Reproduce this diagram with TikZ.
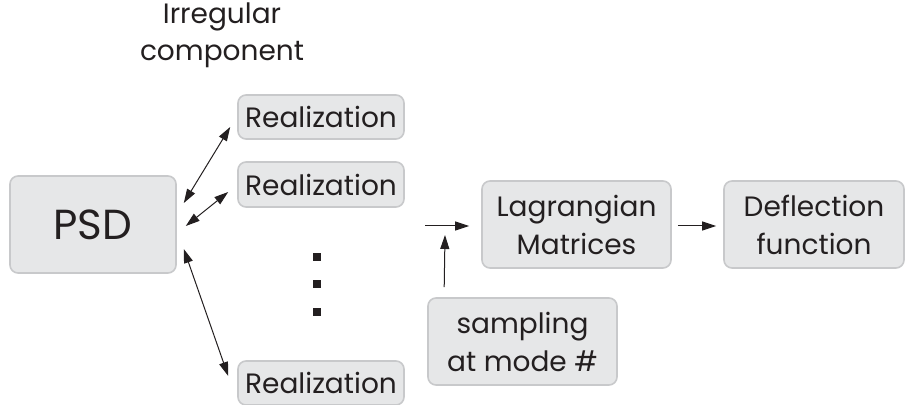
\documentclass[tikz,border=0pt]{standalone}
\usepackage{fontspec}
\setmainfont{Poppins}
\usetikzlibrary{arrows.meta}
\definecolor{boxfill}{HTML}{E6E7E8}
\definecolor{boxline}{HTML}{C8C9CB}
\definecolor{ink}{HTML}{231F20}
\begin{document}
\begin{tikzpicture}[x=0.5pt,y=-0.5pt,
  blk/.style={draw=boxline,fill=boxfill,line width=0.8pt,rounded corners=4pt,
    inner sep=0pt,align=center,text=ink,font=\fontsize{14}{19}\selectfont},
  link/.style={-{Triangle[length=7pt,width=4.5pt]},line width=0.5pt,draw=ink},
  dbl/.style={{Triangle[length=7pt,width=4.5pt]}-{Triangle[length=7pt,width=4.5pt]},line width=0.5pt,draw=ink}]
\useasboundingbox (0,0) rectangle (905,405);
\node[blk,minimum width=83pt,minimum height=48.5pt,font=\fontsize{21}{24}\selectfont] (psd) at (93,224.5) {PSD};
\node[blk,minimum width=83pt,minimum height=22pt] (real1) at (321,117) {Realization};
\node[blk,minimum width=83pt,minimum height=22.5pt] (real2) at (321,184.5) {Realization};
\node[blk,minimum width=83pt,minimum height=22pt] (real3) at (321,383) {Realization};
\node[blk,minimum width=94.5pt,minimum height=43.5pt] (lag) at (576.5,224.5) {Lagrangian\\Matrices};
\node[blk,minimum width=90pt,minimum height=43.5pt] (defl) at (814,224.5) {Deflection\\function};
\node[blk,minimum width=94.5pt,minimum height=43.5pt] (samp) at (522.5,341.5) {sampling\\at mode \#};
\node[align=center,text=ink,font=\fontsize{14}{18.5}\selectfont] (irreg) at (222,35) {Irregular\\component};
% vertical dots
\foreach \y in {257,284,312}
  \fill[ink] (313,\y-4) rectangle (321,\y+4);
\coordinate (merge) at (425,226);
\draw[dbl] ([shift={(7,-21.5)}]psd.east) -- ([shift={(-7,10)}]real1.west);
\draw[dbl] ([shift={(9,1.5)}]psd.east) -- ([shift={(-9,7.5)}]real2.west);
\draw[dbl] ([shift={(7,24.5)}]psd.east) -- ([shift={(-9,-7)}]real3.west);
\draw[link] (merge) -- ([shift={(-12,1.5)}]lag.west);
\draw[link] ([shift={(17,-10)}]samp.north west) -- ([shift={(20,9)}]merge);
\draw[link] ([shift={(6,1.5)}]lag.east) -- ([shift={(-7,1.5)}]defl.west);
\end{tikzpicture}
\end{document}
